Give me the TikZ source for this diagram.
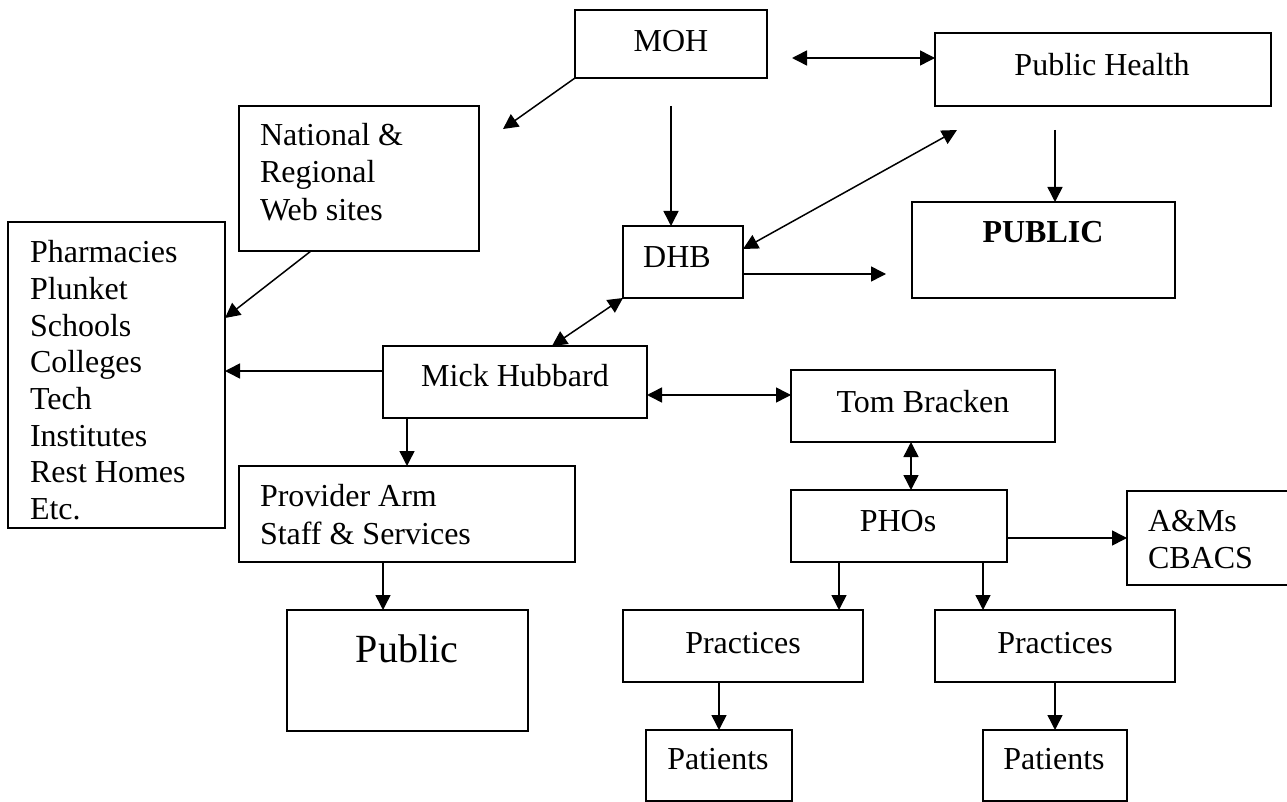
\documentclass[tikz,border=0pt]{standalone}
\usepackage{fontspec}
\setmainfont{Liberation Serif}
\usetikzlibrary{arrows.meta,calc}
\tikzset{
  box/.style={draw=black, line width=1.5pt, rectangle, inner sep=0pt, outer sep=0pt},
  txt/.style={inner sep=0pt, outer sep=0pt, anchor=base, font=\fontsize{32}{38}\selectfont},
  ltxt/.style={txt, anchor=base west},
  conn/.style={line width=1.5pt},
  arr/.style={conn, -{Triangle[length=15pt,width=15pt]}},
  darr/.style={conn, {Triangle[length=15pt,width=15pt]}-{Triangle[length=15pt,width=15pt]}}
}
\begin{document}
\begin{tikzpicture}[x=1pt,y=-1pt]
\useasboundingbox[fill=white] (0,0) rectangle (1287,802);

% boxes
\node[box, minimum width=192pt, minimum height=68pt] (moh) at (671,44) {};
\node[box, minimum width=336pt, minimum height=73pt] (ph) at (1103,69.5) {};
\node[box, minimum width=240pt, minimum height=145pt] (web) at (359,178.5) {};
\node[box, minimum width=217pt, minimum height=306pt] (pharm) at (116.5,375) {};
\node[box, minimum width=120pt, minimum height=72pt] (dhb) at (683,262) {};
\node[box, minimum width=263pt, minimum height=96pt] (pub) at (1043.5,250) {};
\node[box, minimum width=264pt, minimum height=72pt] (mick) at (515,382) {};
\node[box, minimum width=264pt, minimum height=72pt] (tom) at (923,406) {};
\node[box, minimum width=336pt, minimum height=96pt] (prov) at (407,514) {};
\node[box, minimum width=216pt, minimum height=72pt] (pho) at (899,526) {};
\node[box, minimum width=175pt, minimum height=94pt] (am) at (1214.5,538) {};
\node[box, minimum width=241pt, minimum height=121pt] (publ) at (407.5,670.5) {};
\node[box, minimum width=240pt, minimum height=72pt] (prac1) at (743,646) {};
\node[box, minimum width=240pt, minimum height=72pt] (prac2) at (1055,646) {};
\node[box, minimum width=146pt, minimum height=71pt] (pat1) at (719,765.5) {};
\node[box, minimum width=144pt, minimum height=71pt] (pat2) at (1055,765.5) {};

% texts
\node[txt] (mohT) at (671,52) {MOH};
\node[txt] (phT) at (1102,76) {Public Health};
\node[ltxt] (webT1) at (260,146) {National \&};
\node[ltxt] (webT2) at (260,183) {Regional};
\node[ltxt] (webT3) at (260,221) {Web sites};
\foreach \t [count=\i] in {Pharmacies,Plunket,Schools,Colleges,Tech,Institutes,Rest Homes,Etc.}
  \node[ltxt] (pharmT\i) at (30,{263+36.6*(\i-1)}) {\t};
\node[txt] (dhbT) at (677,268) {DHB};
\node[txt, font=\fontsize{32}{38}\selectfont\bfseries] (pubT) at (1043,243) {PUBLIC};
\node[txt] (mickT) at (515,386) {Mick Hubbard};
\node[txt] (tomT) at (923,412) {Tom Bracken};
\node[ltxt] (provT1) at (260,506) {Provider Arm};
\node[ltxt] (provT2) at (260,544) {Staff \& Services};
\node[txt] (phoT) at (898,531) {PHOs};
\node[ltxt] (amT1) at (1148,531) {A\&Ms};
\node[ltxt] (amT2) at (1148,568) {CBACS};
\node[txt, font=\fontsize{40}{48}\selectfont] (publT) at (407,662) {Public};
\node[txt] (prac1T) at (743,653) {Practices};
\node[txt] (prac2T) at (1055,653) {Practices};
\node[txt] (pat1T) at (718,769) {Patients};
\node[txt] (pat2T) at (1054,769) {Patients};

% free ends
\coordinate (c1) at (503,129);
\coordinate (c2) at (792,58);
\coordinate (c3) at (671,106);
\coordinate (c4) at (957,130);
\coordinate (c5) at (1055,130);
\coordinate (c6) at (886,274);

% connectors
\draw[arr] (moh.south west) -- (c1);
\draw[darr] (c2) -- (ph.west |- c2);
\draw[arr] (c3) -- (c3 |- dhb.north);
\draw[darr] (c4) -- ($(dhb.east)+(0,-13)$);
\draw[arr] (c5) -- (c5 |- pub.north);
\draw[arr] (dhb.east |- c6) -- (c6);
\draw[arr] ($(web.south west)+(72,0)$) -- ($(pharm.east)+(0,-57)$);
\draw[darr] ($(mick.north west)+(169,0)$) -- (dhb.south west);
\draw[arr] ($(mick.west)+(0,-11)$) coordinate (m1) -- (pharm.east |- m1);
\draw[darr] ($(mick.east)+(0,13)$) coordinate (m2) -- (tom.west |- m2);
\draw[arr] (prov.north |- mick.south) -- (prov.north);
\draw[darr] ($(tom.south)+(-12,0)$) coordinate (t1) -- (t1 |- pho.north);
\draw[arr] ($(pho.east)+(0,12)$) coordinate (p1) -- (am.west |- p1);
\draw[arr] ($(pho.south)+(-60,0)$) coordinate (p2) -- (p2 |- prac1.north);
\draw[arr] ($(pho.south)+(84,0)$) coordinate (p3) -- (p3 |- prac2.north);
\draw[arr] ($(prov.south)+(-24,0)$) coordinate (q1) -- (q1 |- publ.north);
\draw[arr] (pat1.north |- prac1.south) -- (pat1.north);
\draw[arr] (prac2.south) -- (pat2.north);
\end{tikzpicture}
\end{document}
